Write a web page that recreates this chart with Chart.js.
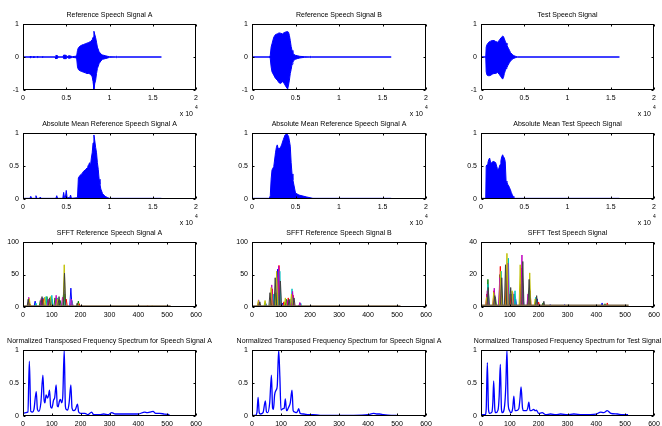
<!DOCTYPE html>
<html>
<head>
<meta charset="utf-8">
<script src="https://cdn.jsdelivr.net/npm/chart.js@4.4.1/dist/chart.umd.min.js"></script>
<style>
  html, body { margin: 0; padding: 0; background: #fff; overflow: hidden; }
  body { width: 662px; height: 426px; position: relative; }
  canvas { position: absolute; }
</style>
</head>
<body>
<script>
// ---- Row 1: speech waveforms (time in x10^4 samples, upper / lower envelope) ----
const sigA_t  = [0, 0.08, 0.085, 0.09, 0.12, 0.125, 0.13, 0.16, 0.165, 0.17, 0.22, 0.225, 0.23, 0.37, 0.38, 0.4, 0.41, 0.46, 0.47, 0.5, 0.51, 0.53, 0.55, 0.57, 0.6, 0.62, 0.63, 0.64, 0.66, 0.68, 0.7, 0.72, 0.74, 0.76, 0.78, 0.8, 0.81, 0.82, 0.83, 0.84, 0.85, 0.86, 0.88, 0.9, 0.92, 0.95, 0.98, 1.0, 1.07, 1.08, 1.09, 1.6];
const sigA_hi = [0, 0, 0.03, 0, 0, 0.03, 0, 0, 0.02, 0, 0, 0.02, 0, 0, 0.05, 0.04, 0, 0, 0.06, 0.05, 0.01, 0.04, 0.03, 0.01, 0.02, 0.03, 0.2, 0.28, 0.33, 0.36, 0.38, 0.4, 0.42, 0.44, 0.47, 0.52, 0.6, 0.78, 0.68, 0.58, 0.45, 0.3, 0.16, 0.09, 0.06, 0.04, 0.02, 0.01, 0, 0.02, 0, 0];
const sigA_lo = [0, 0, -0.03, 0, 0, -0.03, 0, 0, -0.02, 0, 0, -0.02, 0, 0, -0.05, -0.04, 0, 0, -0.05, -0.05, -0.01, -0.04, -0.03, -0.01, -0.02, -0.03, -0.3, -0.38, -0.42, -0.44, -0.46, -0.48, -0.5, -0.5, -0.52, -0.6, -0.75, -0.97, -0.8, -0.7, -0.5, -0.35, -0.2, -0.12, -0.07, -0.05, -0.03, -0.01, 0, -0.02, 0, 0];

const sigB_t  = [0, 0.2, 0.21, 0.22, 0.23, 0.25, 0.27, 0.29, 0.31, 0.33, 0.35, 0.37, 0.39, 0.41, 0.42, 0.43, 0.44, 0.45, 0.46, 0.47, 0.48, 0.5, 0.52, 0.55, 0.6, 0.66, 0.67, 0.68, 1.6];
const sigB_hi = [0, 0, 0.05, 0.3, 0.4, 0.6, 0.68, 0.7, 0.73, 0.72, 0.7, 0.74, 0.76, 0.77, 0.75, 0.65, 0.5, 0.32, 0.2, 0.12, 0.08, 0.05, 0.04, 0.02, 0.01, 0, 0.02, 0, 0];
const sigB_lo = [0, 0, -0.05, -0.3, -0.45, -0.55, -0.65, -0.7, -0.78, -0.8, -0.75, -0.8, -0.9, -0.97, -0.85, -0.7, -0.5, -0.38, -0.22, -0.16, -0.1, -0.07, -0.05, -0.03, -0.01, 0, -0.02, 0, 0];

const sigT_t  = [0, 0.055, 0.06, 0.07, 0.09, 0.11, 0.13, 0.15, 0.17, 0.19, 0.21, 0.23, 0.25, 0.26, 0.27, 0.28, 0.29, 0.3, 0.31, 0.32, 0.33, 0.34, 0.36, 0.38, 0.4, 0.42, 1.6];
const sigT_hi = [0, 0, 0.3, 0.38, 0.45, 0.48, 0.5, 0.5, 0.47, 0.45, 0.5, 0.58, 0.63, 0.62, 0.55, 0.48, 0.42, 0.35, 0.3, 0.25, 0.2, 0.14, 0.08, 0.04, 0.02, 0, 0];
const sigT_lo = [0, 0, -0.45, -0.55, -0.57, -0.56, -0.52, -0.5, -0.5, -0.47, -0.52, -0.6, -0.67, -0.62, -0.5, -0.42, -0.35, -0.32, -0.26, -0.21, -0.17, -0.13, -0.07, -0.04, -0.02, 0, 0];

// ---- Row 2: absolute mean ----
const absA_t = [0, 0.08, 0.09, 0.1, 0.14, 0.15, 0.16, 0.19, 0.2, 0.21, 0.38, 0.39, 0.4, 0.46, 0.47, 0.48, 0.49, 0.5, 0.51, 0.54, 0.55, 0.56, 0.63, 0.64, 0.66, 0.68, 0.7, 0.72, 0.74, 0.75, 0.76, 0.77, 0.78, 0.79, 0.8, 0.81, 0.82, 0.83, 0.84, 0.85, 0.86, 0.87, 0.88, 0.89, 0.9, 0.92, 0.95, 0.98, 1.0, 1.6];
const absA_v = [0.01, 0.01, 0.04, 0.01, 0.01, 0.05, 0.01, 0.01, 0.03, 0.01, 0.01, 0.05, 0.01, 0.01, 0.1, 0.02, 0.02, 0.13, 0.02, 0.02, 0.06, 0.01, 0.02, 0.32, 0.36, 0.38, 0.42, 0.44, 0.47, 0.5, 0.52, 0.55, 0.5, 0.62, 0.7, 0.85, 0.97, 0.88, 0.78, 0.7, 0.55, 0.45, 0.3, 0.22, 0.15, 0.08, 0.04, 0.02, 0.01, 0.01];

const absB_t = [0, 0.2, 0.21, 0.22, 0.23, 0.25, 0.27, 0.28, 0.29, 0.3, 0.31, 0.33, 0.34, 0.36, 0.38, 0.39, 0.4, 0.41, 0.42, 0.43, 0.44, 0.45, 0.46, 0.47, 0.5, 0.54, 0.63, 0.7, 1.6];
const absB_v = [0.01, 0.01, 0.05, 0.3, 0.44, 0.49, 0.7, 0.78, 0.82, 0.77, 0.75, 0.79, 0.82, 0.9, 0.97, 0.99, 0.99, 0.97, 0.95, 0.88, 0.8, 0.55, 0.38, 0.29, 0.09, 0.06, 0.03, 0.01, 0.01];

const absT_t = [0, 0.055, 0.06, 0.07, 0.08, 0.09, 0.1, 0.11, 0.12, 0.13, 0.14, 0.15, 0.16, 0.17, 0.18, 0.19, 0.2, 0.21, 0.22, 0.23, 0.24, 0.25, 0.26, 0.27, 0.28, 0.29, 0.3, 0.31, 0.32, 0.33, 0.34, 0.35, 0.36, 0.37, 0.38, 0.39, 0.4, 1.6];
const absT_v = [0.01, 0.01, 0.5, 0.52, 0.55, 0.6, 0.62, 0.56, 0.54, 0.56, 0.57, 0.57, 0.56, 0.55, 0.5, 0.46, 0.44, 0.48, 0.52, 0.58, 0.64, 0.67, 0.64, 0.62, 0.57, 0.27, 0.25, 0.22, 0.2, 0.17, 0.14, 0.1, 0.07, 0.04, 0.02, 0.01, 0.01, 0.01];

// ---- Row 3: SFFT peaks per line colour, [frequency bin, magnitude] ----
const sfftA_b = [[20, 8], [42, 9], [69, 14], [100, 12], [142, 26], [166, 29], [192, 4]];
const sfftA_g = [[22, 6], [60, 10], [83, 16], [111, 14], [129, 10], [145, 20], [192, 9]];
const sfftA_r = [[25, 4], [70, 12], [90, 10], [118, 12], [150, 12], [170, 8], [195, 5], [432, 2]];
const sfftA_c = [[45, 6], [80, 16], [100, 18], [120, 14], [140, 18], [170, 10]];
const sfftA_m = [[20, 15], [63, 13], [88, 12], [115, 18], [137, 15], [168, 12]];
const sfftA_y = [[22, 13], [75, 15], [95, 16], [120, 12], [143, 65], [190, 6], [448, 2]];
const sfftA_k = [[18, 12], [66, 16], [92, 14], [125, 16], [144, 52], [188, 6]];

const sfftB_b = [[23, 6], [48, 5], [72, 18], [88, 58], [105, 6], [120, 8], [140, 10], [165, 4]];
const sfftB_g = [[25, 5], [65, 10], [82, 22], [95, 30], [118, 12], [135, 12], [162, 3]];
const sfftB_r = [[20, 4], [70, 28], [93, 64], [110, 8], [125, 14], [142, 18]];
const sfftB_c = [[46, 7], [75, 20], [96, 55], [130, 10], [138, 28], [168, 6]];
const sfftB_m = [[23, 11], [68, 34], [92, 63], [122, 10], [140, 24], [165, 7]];
const sfftB_y = [[22, 10], [45, 10], [66, 30], [85, 55], [115, 14], [136, 20]];
const sfftB_k = [[27, 8], [62, 22], [80, 45], [98, 40], [128, 12], [145, 14]];

const sfftT_b = [[22, 5], [47, 4], [68, 10], [90, 16], [105, 8], [120, 5], [145, 10], [168, 7], [195, 5], [240, 1.5], [290, 1.5], [420, 2.5]];
const sfftT_g = [[24, 17], [50, 6], [66, 20], [92, 22], [115, 8], [138, 14], [165, 10], [192, 4], [215, 2.5], [430, 2]];
const sfftT_r = [[20, 8], [45, 10], [67, 25], [88, 20], [100, 8], [140, 24], [170, 10], [200, 3], [438, 2.5]];
const sfftT_c = [[24, 14], [46, 8], [70, 22], [95, 30], [118, 10], [143, 20], [168, 12], [190, 6]];
const sfftT_m = [[22, 10], [46, 11.6], [65, 18], [93, 27], [110, 9], [142, 32], [163, 8], [195, 3]];
const sfftT_y = [[20, 6], [44, 9], [68, 22], [90, 33], [108, 10], [136, 26], [169, 21], [188, 5]];
const sfftT_k = [[25, 12], [48, 7], [72, 18], [85, 26], [103, 12], [145, 28], [167, 17], [193, 7], [218, 3.5]];

const sfftBase = [[0, 0.8], [512, 0.8]];

// ---- Row 4: normalized spectra ----
const nA_f = [0, 10, 17, 22, 27, 33, 38, 46, 50, 55, 62, 69, 73, 76, 80, 85, 88, 92, 96, 100, 106, 110, 115, 119, 122, 126, 130, 134, 138, 143, 147, 150, 155, 160, 166, 170, 176, 182, 189, 193, 200, 215, 225, 238, 245, 265, 280, 295, 308, 320, 360, 400, 422, 430, 440, 451, 460, 474, 490, 508];
const nA_v = [0.04, 0.05, 0.06, 0.83, 0.07, 0.06, 0.1, 0.37, 0.1, 0.07, 0.2, 0.62, 0.25, 0.2, 0.32, 0.27, 0.3, 0.39, 0.14, 0.12, 0.24, 0.28, 0.47, 0.15, 0.14, 0.22, 0.25, 0.2, 0.3, 1.0, 0.15, 0.1, 0.09, 0.2, 0.47, 0.12, 0.08, 0.1, 0.18, 0.06, 0.04, 0.04, 0.02, 0.06, 0.02, 0.02, 0.03, 0.02, 0.05, 0.03, 0.03, 0.03, 0.06, 0.05, 0.06, 0.07, 0.04, 0.04, 0.03, 0.02];

const nB_f = [0, 12, 17, 21, 25, 29, 38, 46, 50, 54, 61, 67, 71, 74, 78, 83, 87, 92, 96, 100, 107, 111, 115, 119, 122, 126, 132, 138, 142, 148, 153, 158, 161, 166, 178, 195, 210, 235, 300, 350, 400, 419, 430, 440, 453, 480, 499];
const nB_v = [0.01, 0.01, 0.05, 0.28, 0.05, 0.03, 0.05, 0.23, 0.06, 0.05, 0.2, 0.62, 0.12, 0.1, 0.32, 0.39, 0.45, 1.0, 0.6, 0.09, 0.11, 0.12, 0.26, 0.08, 0.09, 0.13, 0.2, 0.39, 0.08, 0.06, 0.05, 0.08, 0.11, 0.04, 0.03, 0.02, 0.02, 0.01, 0.01, 0.01, 0.02, 0.04, 0.03, 0.03, 0.02, 0.01, 0.01];

const nT_f = [0, 15, 18, 22, 26, 30, 38, 41, 44, 48, 51, 59, 63, 67, 71, 74, 82, 86, 90, 94, 98, 104, 110, 114, 118, 122, 131, 135, 139, 144, 148, 157, 162, 166, 170, 174, 183, 188, 192, 200, 212, 225, 241, 260, 276, 300, 322, 350, 400, 415, 425, 438, 450, 473, 490, 510];
const nT_v = [0.02, 0.02, 0.1, 0.81, 0.1, 0.04, 0.06, 0.2, 0.53, 0.1, 0.05, 0.09, 0.3, 0.78, 0.1, 0.05, 0.16, 0.45, 1.0, 0.2, 0.09, 0.05, 0.12, 0.3, 0.08, 0.08, 0.11, 0.25, 0.44, 0.12, 0.08, 0.08, 0.12, 0.21, 0.08, 0.08, 0.1, 0.08, 0.09, 0.04, 0.05, 0.02, 0.03, 0.02, 0.03, 0.02, 0.03, 0.02, 0.03, 0.06, 0.05, 0.08, 0.04, 0.03, 0.02, 0.02];

// ---- layout (axes boxes in page pixels) ----
const colLeft = [23, 252, 481];
const colRight = [196, 426, 654];
const rowTop = [24, 133, 242, 350];
const rowBottom = [90, 199, 307, 416];
const PAD_SIDE = 24, PAD_TOP = 17, PAD_BOTTOM = 28;
const SPIKE_HALF = 4;

const BLUE = '#0000ff';
const FONT = "'Liberation Sans', Arial, sans-serif";
const lineColors = {
  b: 'rgb(0,0,255)', g: 'rgb(0,128,0)', r: 'rgb(255,0,0)', c: 'rgb(0,191,191)',
  m: 'rgb(191,0,191)', y: 'rgb(191,191,0)', k: 'rgb(64,64,64)'
};

Chart.defaults.font.family = FONT;
Chart.defaults.font.size = 7;
Chart.defaults.color = '#000';

const pts = (xs, ys) => xs.map((x, i) => ({ x: x, y: ys[i] }));
// MATLAB style labels: 0, 0.5, 1 (no trailing zeros)
const tickText = v => String(+Number(v).toFixed(3));

function spikes(peaks) {
  const out = [{ x: 0, y: 0 }];
  peaks.forEach(p => {
    out.push({ x: p[0] - SPIKE_HALF, y: 0 }, { x: p[0], y: p[1] }, { x: p[0] + SPIKE_HALF, y: 0 });
  });
  out.push({ x: 512, y: 0 });
  return out;
}

// axes box with inward ticks, centred title over the axes and the "x 10^4" label
const matlabBox = {
  id: 'matlabBox',
  afterDraw(chart, args, opts) {
    const a = chart.chartArea, ctx = chart.ctx;
    ctx.save();
    ctx.strokeStyle = '#000';
    ctx.lineWidth = 1;
    const L = Math.round(a.left) + 0.5, R = Math.round(a.right) - 0.5;
    const T = Math.round(a.top) + 0.5, B = Math.round(a.bottom) - 0.5;
    ctx.strokeRect(L, T, R - L, B - T);
    ctx.beginPath();
    chart.scales.x.ticks.forEach(t => {
      const px = Math.round(chart.scales.x.getPixelForValue(t.value)) + 0.5;
      ctx.moveTo(px, B); ctx.lineTo(px, B - 2);
      ctx.moveTo(px, T); ctx.lineTo(px, T + 2);
    });
    chart.scales.y.ticks.forEach(t => {
      const py = Math.round(chart.scales.y.getPixelForValue(t.value)) + 0.5;
      ctx.moveTo(L, py); ctx.lineTo(L + 2, py);
      ctx.moveTo(R, py); ctx.lineTo(R - 2, py);
    });
    ctx.stroke();

    ctx.fillStyle = '#000';
    ctx.textBaseline = 'middle';
    ctx.font = '7px ' + FONT;
    ctx.textAlign = 'center';
    ctx.fillText(opts.title, (a.left + a.right) / 2, a.top - 8.5);

    if (opts.exponent) {
      ctx.textAlign = 'right';
      ctx.fillText('x 10', a.right - 3, a.bottom + 24);
      ctx.font = '5px ' + FONT;
      ctx.textAlign = 'left';
      ctx.fillText('4', a.right - 1, a.bottom + 18);
    }
    ctx.restore();
  }
};

function makeChart(row, col, title, datasets, xr, yr, exponent) {
  const w = colRight[col] - colLeft[col] + PAD_SIDE * 2;
  const h = rowBottom[row] - rowTop[row] + PAD_TOP + PAD_BOTTOM;
  const cv = document.createElement('canvas');
  cv.width = w; cv.height = h;
  cv.style.left = (colLeft[col] - PAD_SIDE) + 'px';
  cv.style.top = (rowTop[row] - PAD_TOP) + 'px';
  cv.style.width = w + 'px'; cv.style.height = h + 'px';
  document.body.appendChild(cv);
  return new Chart(cv, {
    type: 'line',
    data: { datasets: datasets },
    options: {
      responsive: false,
      animation: false,
      devicePixelRatio: 1,
      layout: { padding: { left: 0, right: PAD_SIDE, top: PAD_TOP, bottom: 0 } },
      elements: { point: { radius: 0 }, line: { tension: 0 } },
      plugins: {
        legend: { display: false },
        tooltip: { enabled: false },
        title: { display: false },
        matlabBox: { title: title, exponent: exponent }
      },
      scales: {
        x: {
          type: 'linear', min: xr[0], max: xr[1],
          ticks: { stepSize: xr[2], autoSkip: false, maxRotation: 0, padding: 4, color: '#000', callback: tickText },
          grid: { display: false, drawTicks: false },
          border: { display: false },
          afterFit: s => { s.height = PAD_BOTTOM; }
        },
        y: {
          type: 'linear', min: yr[0], max: yr[1],
          ticks: { stepSize: yr[2], autoSkip: false, padding: 4, color: '#000', callback: tickText },
          grid: { display: false, drawTicks: false },
          border: { display: false },
          afterFit: s => { s.width = PAD_SIDE; }
        }
      }
    },
    plugins: [matlabBox]
  });
}

function waveSets(t, hi, lo) {
  return [
    { data: pts(t, hi), borderColor: BLUE, backgroundColor: BLUE, borderWidth: 1, fill: '+1' },
    { data: pts(t, lo), borderColor: BLUE, backgroundColor: BLUE, borderWidth: 1, fill: false }
  ];
}
function absSets(t, v) {
  return [{ data: pts(t, v), borderColor: BLUE, backgroundColor: BLUE, borderWidth: 1, fill: 'origin' }];
}
function sfftSets(list) {
  const sets = [{ data: sfftBase.map(p => ({ x: p[0], y: p[1] })), borderColor: 'rgb(125,105,75)', borderWidth: 2.5, fill: false }];
  list.forEach(([key, peaks]) => {
    sets.push({ data: spikes(peaks), borderColor: lineColors[key], borderWidth: 1, fill: false });
  });
  return sets;
}
function normSets(f, v) {
  return [{ data: pts(f, v), borderColor: BLUE, borderWidth: 1.3, fill: false, cubicInterpolationMode: 'monotone' }];
}

const timeX = [0, 2, 0.5];
const freqX = [0, 600, 100];

makeChart(0, 0, 'Reference Speech Signal A', waveSets(sigA_t, sigA_hi, sigA_lo), timeX, [-1, 1, 1], true);
makeChart(0, 1, 'Reference Speech Signal B', waveSets(sigB_t, sigB_hi, sigB_lo), timeX, [-1, 1, 1], true);
makeChart(0, 2, 'Test Speech Signal', waveSets(sigT_t, sigT_hi, sigT_lo), timeX, [-1, 1, 1], true);

makeChart(1, 0, 'Absolute Mean Reference Speech Signal A', absSets(absA_t, absA_v), timeX, [0, 1, 0.5], true);
makeChart(1, 1, 'Absolute Mean Reference Speech Signal A', absSets(absB_t, absB_v), timeX, [0, 1, 0.5], true);
makeChart(1, 2, 'Absolute Mean Test Speech Signal', absSets(absT_t, absT_v), timeX, [0, 1, 0.5], true);

makeChart(2, 0, 'SFFT Reference Speech Signal A',
  sfftSets([['k', sfftA_k], ['y', sfftA_y], ['m', sfftA_m], ['c', sfftA_c], ['r', sfftA_r], ['g', sfftA_g], ['b', sfftA_b]]),
  freqX, [0, 100, 50], false);
makeChart(2, 1, 'SFFT Reference Speech Signal B',
  sfftSets([['k', sfftB_k], ['y', sfftB_y], ['m', sfftB_m], ['c', sfftB_c], ['r', sfftB_r], ['g', sfftB_g], ['b', sfftB_b]]),
  freqX, [0, 100, 50], false);
makeChart(2, 2, 'SFFT Test Speech Signal',
  sfftSets([['k', sfftT_k], ['y', sfftT_y], ['m', sfftT_m], ['c', sfftT_c], ['r', sfftT_r], ['g', sfftT_g], ['b', sfftT_b]]),
  freqX, [0, 40, 20], false);

makeChart(3, 0, 'Normalized Transposed Frequency Spectrum for Speech Signal A', normSets(nA_f, nA_v), freqX, [0, 1, 0.5], false);
makeChart(3, 1, 'Normalized Transposed Frequency Spectrum for Speech Signal A', normSets(nB_f, nB_v), freqX, [0, 1, 0.5], false);
makeChart(3, 2, 'Normalized Transposed Frequency Spectrum for Test Signal', normSets(nT_f, nT_v), freqX, [0, 1, 0.5], false);
</script>
</body>
</html>
